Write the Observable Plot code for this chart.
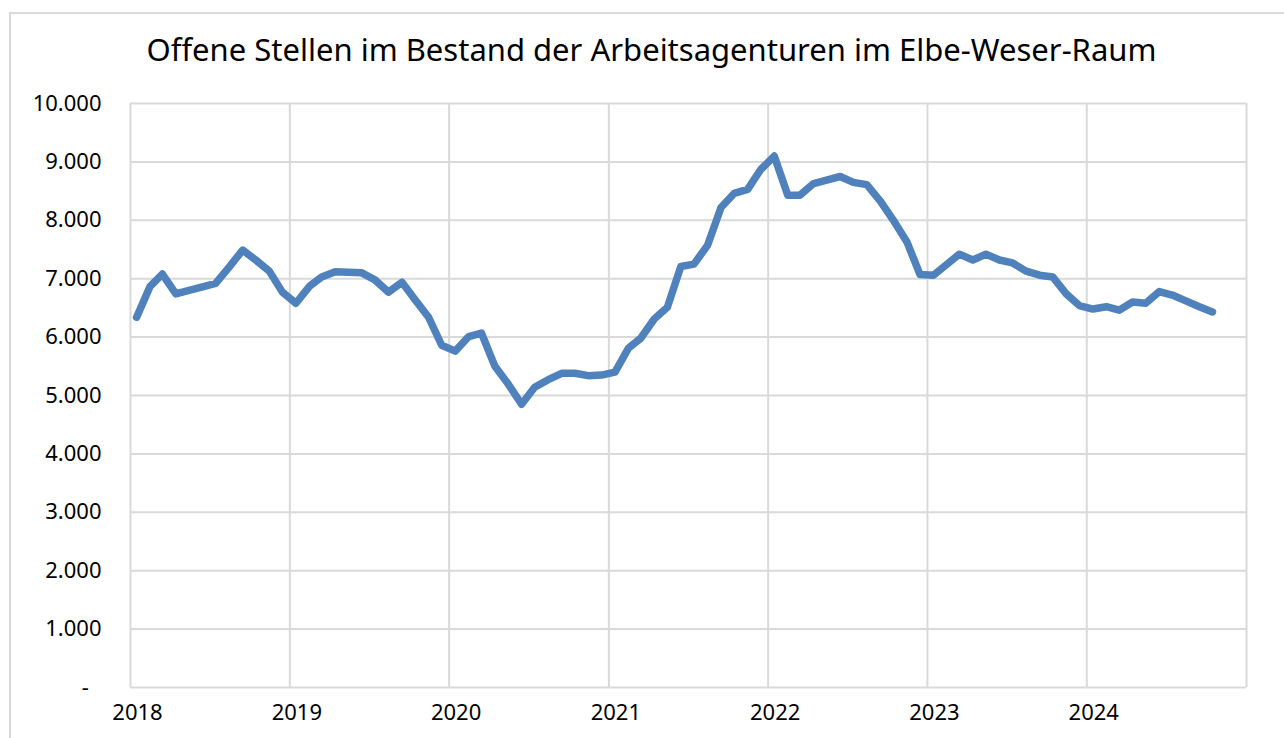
<!DOCTYPE html>
<html><head><meta charset="utf-8">
<script src="https://cdn.jsdelivr.net/npm/d3@7"></script>
<script src="https://cdn.jsdelivr.net/npm/@observablehq/plot@0.6"></script>
<style>
body{margin:0;background:#fff;}
#wrap{position:relative;width:1284px;height:738px;overflow:hidden;background:#fff;}
#frame{position:absolute;left:9px;top:12px;width:1300px;height:800px;border:2px solid #d9d9d9;box-sizing:border-box;}
#title{position:absolute;left:0;top:28px;width:1303px;text-align:center;font-family:"Noto Sans";font-size:31px;line-height:42px;color:#000;white-space:nowrap;}
#chart{position:absolute;left:0;top:80px;}
</style>
</head><body>
<div id="wrap"><div id="frame"></div><div id="title">Offene Stellen im Bestand der Arbeitsagenturen im Elbe-Weser-Raum</div><div id="chart"></div></div>
<script>
// Monthly values, Jan 2018 – Oct 2024
const values = [
  6340, 6870, 7080, 6740, 6800, 6860, 6920, 7200, 7490, 7320, 7130, 6770,
  6580, 6870, 7030, 7120, 7110, 7100, 6980, 6770, 6940, 6640, 6340, 5860,
  5760, 6010, 6070, 5500, 5200, 4850, 5140, 5270, 5380, 5380, 5340, 5350,
  5400, 5810, 5980, 6310, 6510, 7210, 7250, 7570, 8220, 8460, 8530, 8870,
  9100, 8430, 8430, 8630, 8690, 8750, 8650, 8610, 8330, 8000, 7630, 7070,
  7060, 7250, 7420, 7320, 7420, 7320, 7270, 7130, 7060, 7030, 6740, 6540,
  6480, 6520, 6460, 6600, 6580, 6780, 6720, 6620, 6520, 6430
];
const startYear = 2018;
const years = [2018, 2019, 2020, 2021, 2022, 2023, 2024, 2025];
const yearLabels = ["2018", "2019", "2020", "2021", "2022", "2023", "2024"];
const yTicks = [0, 1000, 2000, 3000, 4000, 5000, 6000, 7000, 8000, 9000, 10000];
const titleText = "Offene Stellen im Bestand der Arbeitsagenturen im Elbe-Weser-Raum";

const data = values.map((v, i) => ({date: new Date(Date.UTC(startYear, i, 15)), value: v}));
const yearDates = years.map(y => new Date(Date.UTC(y, 0, 1)));
const labelDates = yearLabels.map(y => new Date(Date.UTC(+y, 0, 1)));
const de = d3.formatLocale({decimal: ",", thousands: ".", grouping: [3], currency: ["", " €"]});
const fmt = de.format(",");
const yFmt = d => d === 0 ? "-\u2007" : fmt(d);

const chart = Plot.plot({
  width: 1284, height: 658,
  marginLeft: 130, marginRight: 38, marginTop: 23, marginBottom: 51,
  style: {fontFamily: "Noto Sans", fontSize: "22px", color: "#000", background: "transparent", overflow: "visible"},
  x: {type: "utc", domain: [yearDates[0], yearDates[yearDates.length - 1]]},
  y: {domain: [0, 10000]},
  marks: [
    Plot.ruleY(yTicks, {stroke: "#d9d9d9", strokeWidth: 2}),
    Plot.ruleX(yearDates, {stroke: "#d9d9d9", strokeWidth: 2}),
    Plot.axisY({ticks: yTicks, tickFormat: yFmt, tickSize: 0, tickPadding: 29, label: null, fontSize: 22}),
    Plot.axisX({ticks: labelDates, tickFormat: d3.utcFormat("%Y"), tickSize: 0, tickPadding: 17, dx: 7, label: null, fontSize: 22}),
    Plot.line(data, {x: "date", y: "value", stroke: "#4f81bd", strokeWidth: 7.5, strokeLinejoin: "round", strokeLinecap: "round"})
  ]
});
document.getElementById("title").textContent = titleText;
document.getElementById("chart").appendChild(chart);
</script>
</body></html>
